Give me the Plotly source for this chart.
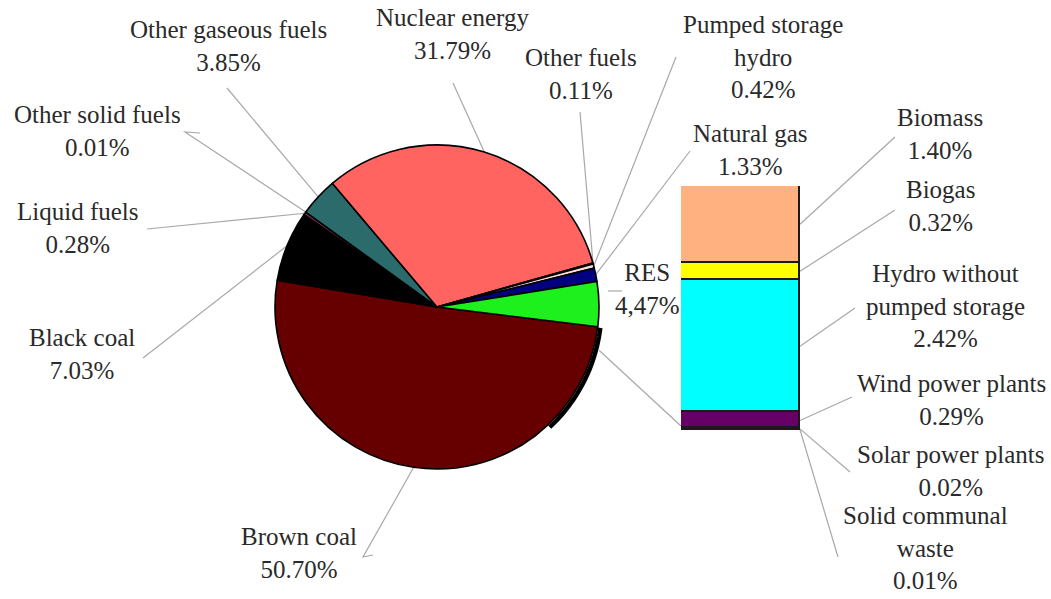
import math
import plotly.graph_objects as go

W, H = 1051, 599

# Electricity generation shares (%), pie part, clockwise from the RES/brown-coal edge
pie_labels = ["Brown coal", "Black coal", "Liquid fuels", "Other solid fuels",
              "Other gaseous fuels", "Nuclear energy", "Other fuels",
              "Pumped storage hydro", "Natural gas", "RES"]
pie_values = [50.70, 7.03, 0.28, 0.01, 3.85, 31.79, 0.11, 0.42, 1.33, 4.47]
pie_text = ["Brown coal<br>50.70%", "Black coal<br>7.03%", "Liquid fuels<br>0.28%",
            "Other solid fuels<br>0.01%", "Other gaseous fuels<br>3.85%",
            "Nuclear energy<br>31.79%", "Other fuels<br>0.11%",
            "Pumped storage<br>hydro<br>0.42%", "Natural gas<br>1.33%", "RES<br>4,47%"]
pie_colors = ["#660000", "#000000", "#993366", "#ffffcc", "#2b6b6b", "#ff6461",
              "#ccffff", "#ffdede", "#000080", "#1ef01e"]

# Breakdown of renewable sources (%), stacked bottom to top
res_labels = ["Solid communal waste", "Solar power plants", "Wind power plants",
              "Hydro without pumped storage", "Biogas", "Biomass"]
res_values = [0.01, 0.02, 0.29, 2.42, 0.32, 1.40]
res_text = ["Solid communal<br>waste<br>0.01%", "Solar power plants<br>0.02%",
            "Wind power plants<br>0.29%", "Hydro without<br>pumped storage<br>2.42%",
            "Biogas<br>0.32%", "Biomass<br>1.40%"]
res_colors = ["#336666", "#66ccff", "#660066", "#00ffff", "#ffff00", "#ffb27f"]

# ---- layout geometry (pixels) ----
CX, CY, R = 437, 307, 162          # pie centre and radius
ROT = 97                           # start of first slice, degrees clockwise from 12 o'clock
BAR_L, BAR_R, BAR_B, BAR_T = 681, 800, 430, 186


def px(x, y):
    return x / W, 1 - y / H


fig = go.Figure()

fig.add_trace(go.Pie(
    labels=pie_labels, values=pie_values, sort=False, direction="clockwise",
    rotation=ROT, textinfo="none", hoverinfo="label+percent",
    marker=dict(colors=pie_colors, line=dict(color="#000000", width=1.6)),
    domain=dict(x=[(CX - R) / W, (CX + R) / W], y=[1 - (CY + R) / H, 1 - (CY - R) / H]),
    showlegend=False,
))

for lab, val, col in zip(res_labels, res_values, res_colors):
    fig.add_trace(go.Bar(
        x=[0], y=[val], name=lab, width=1, showlegend=False,
        marker=dict(color=col, line=dict(color="#1a1a1a", width=1.6)),
        xaxis="x", yaxis="y",
    ))

res_total = sum(res_values)

# slice mid-angle anchor points on the pie rim
total = sum(pie_values)
anchors = []
acc = 0.0
for v in pie_values:
    mid = ROT + (acc + v / 2) / total * 360
    a = math.radians(mid)
    anchors.append((CX + R * math.sin(a), CY - R * math.cos(a)))
    acc += v

# bar segment anchor points on the right edge
scale = (BAR_B - BAR_T) / res_total
bar_anchors = []
acc = 0.0
for v in res_values:
    bar_anchors.append((BAR_R, BAR_B - (acc + v / 2) * scale))
    acc += v

# label positions (text block centre) and leader start points
pie_label_pos = {
    "Brown coal": ((299, 553), [(373, 555), (363, 557)]),
    "Black coal": ((82, 354), [(143, 358)]),
    "Liquid fuels": ((78, 228), [(147, 229)]),
    "Other solid fuels": ((97, 131), [(200, 133), (185, 132)]),
    "Other gaseous fuels": ((228, 46), [(227, 88)]),
    "Nuclear energy": ((452, 34), [(453, 83)]),
    "Other fuels": ((581, 74), [(580, 112)]),
    "Pumped storage hydro": ((763, 57), [(676, 57)]),
    "Natural gas": ((750, 150), [(690, 151)]),
    "RES": ((647, 289), [(622, 291), (608, 291)]),
}
res_label_pos = {
    "Solid communal waste": ((925, 548), [(838, 557)]),
    "Solar power plants": ((950, 471), [(850, 472)]),
    "Wind power plants": ((951, 400), [(852, 397)]),
    "Hydro without pumped storage": ((945, 306), [(855, 308)]),
    "Biogas": ((940, 206), [(895, 210)]),
    "Biomass": ((940, 134), [(895, 137)]),
}

shapes = []
annotations = []
LINE = dict(color="#a8a8a8", width=1.2)
FONT = dict(family="Liberation Serif", size=25, color="#2a2a2a")


def leader(points):
    d = "M " + " L ".join(f"{px(x, y)[0]:.5f},{px(x, y)[1]:.5f}" for x, y in points)
    shapes.append(dict(type="path", path=d, xref="paper", yref="paper", line=LINE, layer="below"))


for i, lab in enumerate(pie_labels):
    (tx, ty), pts = pie_label_pos[lab]
    if lab == "RES":
        leader(pts)
    else:
        leader(pts + [anchors[i]])
    ax, ay = px(tx, ty)
    annotations.append(dict(x=ax, y=ay, xref="paper", yref="paper", text=pie_text[i],
                            showarrow=False, font=FONT, xanchor="center", yanchor="middle"))

for i, lab in enumerate(res_labels):
    (tx, ty), pts = res_label_pos[lab]
    leader(pts + [bar_anchors[i]])
    ax, ay = px(tx, ty)
    annotations.append(dict(x=ax, y=ay, xref="paper", yref="paper", text=res_text[i],
                            showarrow=False, font=FONT, xanchor="center", yanchor="middle"))

# connector from the RES slice to the foot of the breakdown bar
a0 = math.radians(ROT + 8)
leader([(CX + (R + 6) * math.sin(a0), CY - (R + 6) * math.cos(a0)), (BAR_L, BAR_B - 4)])

# dark rim shading along the lower right of the pie
arc_pts = []
for k in range(0, 41):
    a = math.radians(ROT + k)
    arc_pts.append((CX + 1.5 + (R + 1) * math.sin(a), CY + 1 - (R + 1) * math.cos(a)))
d = "M " + " L ".join(f"{px(x, y)[0]:.5f},{px(x, y)[1]:.5f}" for x, y in arc_pts)
shapes.append(dict(type="path", path=d, xref="paper", yref="paper",
                   line=dict(color="#000000", width=4.5), layer="below"))

fig.update_layout(
    width=W, height=H, margin=dict(l=0, r=0, t=0, b=0),
    paper_bgcolor="white", plot_bgcolor="rgba(0,0,0,0)",
    barmode="stack", bargap=0,
    xaxis=dict(domain=[BAR_L / W, BAR_R / W], range=[-0.5, 0.5], visible=False, fixedrange=True),
    yaxis=dict(domain=[1 - BAR_B / H, 1 - BAR_T / H], range=[0, res_total], visible=False,
               fixedrange=True),
    shapes=shapes, annotations=annotations,
)

fig.write_html("out.html")
